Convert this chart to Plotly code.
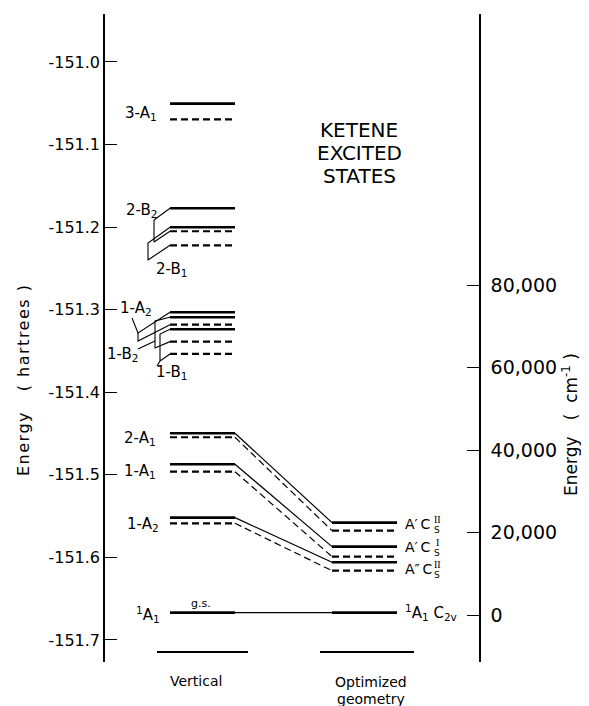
import plotly.graph_objects as go

# ---------------- data ----------------
vertical_states = ["3-A1", "2-B2", "2-B1", "1-A2", "1-B2", "1-B1", "2-A1", "1-A1", "1-A2 (low)", "g.s."]
vertical_solid = [-151.0505, -151.1772, -151.2002, -151.3031, -151.3092, -151.3237,
                  -151.4497, -151.4872, -151.5519, -151.6669]
vertical_dashed = [-151.0694, -151.2050, -151.2220, -151.3182, -151.3387, -151.3536,
                   -151.4545, -151.4962, -151.5587, None]

optimized_states = ["A' Cs II", "A' Cs I", "A'' Cs II", "1A1 C2v"]
optimized_solid = [-151.5579, -151.5870, -151.6059, -151.6669]
optimized_dashed = [-151.5676, -151.5991, -151.6161, None]
# vertical state -> optimized state
correlation = [("2-A1", "A' Cs II"), ("1-A1", "A' Cs I"), ("1-A2 (low)", "A'' Cs II"), ("g.s.", "1A1 C2v")]

left_tickvals = [-151.0, -151.1, -151.2, -151.3, -151.4, -151.5, -151.6, -151.7]
left_ticktext = ["-151.0", "-151.1", "-151.2", "-151.3", "-151.4", "-151.5", "-151.6", "-151.7"]
right_tickvals = [0, 20000, 40000, 60000, 80000]
right_ticktext = ["0", "20,000", "40,000", "60,000", "80,000"]

# ---------------- layout geometry (window pixels) ----------------
OFF = 8                      # page body margin
W, H = 589 - OFF, 706 - OFF  # figure size
PL, PR, PT, PB = 105, 479, 14, 662
Y_RANGE = [-151.7267, -150.9419]
Y2_RANGE = [-11394, 145697]
VERT = (170, 235)
OPT = (332, 397)
FONT = "DejaVu Sans, Liberation Sans, Arial, sans-serif"
SERIF = "Liberation Serif, DejaVu Serif, serif"


def e_to_py(e):
    return PT + (Y_RANGE[1] - e) / (Y_RANGE[1] - Y_RANGE[0]) * (PB - PT)


def py_to_e(py):
    return Y_RANGE[1] - (py - PT) / (PB - PT) * (Y_RANGE[1] - Y_RANGE[0])


def pxp(x):
    return (x - OFF) / W


def pyp(y):
    return 1 - (y - OFF) / H


fig = go.Figure()


def seg_trace(xs, ys, width, dash="solid"):
    fig.add_trace(go.Scatter(x=xs, y=ys, mode="lines", hoverinfo="skip", showlegend=False,
                             line=dict(color="black", width=width, dash=dash)))


def levels(col, vals):
    xs, ys = [], []
    for v in vals:
        if v is None:
            continue
        xs += [col[0], col[1], None]
        ys += [v, v, None]
    return xs, ys


# level lines
x, y = levels(VERT, vertical_solid)
seg_trace(x, y, 2.6)
x, y = levels(VERT, vertical_dashed)
seg_trace(x, y, 2.2, "7px,4px")
x, y = levels(OPT, optimized_solid)
seg_trace(x, y, 2.6)
x, y = levels(OPT, optimized_dashed)
seg_trace(x, y, 2.2, "7px,4px")

# correlation connectors
cs_x, cs_y, cd_x, cd_y = [], [], [], []
for vs, os_ in correlation:
    i = vertical_states.index(vs)
    j = optimized_states.index(os_)
    cs_x += [VERT[1], OPT[0], None]
    cs_y += [vertical_solid[i], optimized_solid[j], None]
    if vertical_dashed[i] is not None and optimized_dashed[j] is not None:
        cd_x += [VERT[1], OPT[0], None]
        cd_y += [vertical_dashed[i], optimized_dashed[j], None]
seg_trace(cs_x, cs_y, 1.2)
seg_trace(cd_x, cd_y, 1.2, "7px,4px")


# leader lines (pixel nodes; endpoints on levels)
def lv(name, dashed=False):
    i = vertical_states.index(name)
    return e_to_py(vertical_dashed[i] if dashed else vertical_solid[i])


leaders = [
    [(154, 220), (VERT[0], lv("2-B2"))],
    [(154, 220), (154, 242), (VERT[0], lv("2-B2", True))],
    [(VERT[0], lv("2-B1")), (148, 243), (148, 260), (VERT[0], lv("2-B1", True))],
    [(132, 318), (138, 333), (VERT[0], lv("1-A2"))],
    [(138, 333), (138, 341), (VERT[0], lv("1-A2", True))],
    [(138, 349), (155, 341)],
    [(VERT[0], lv("1-B2")), (155, 321), (155, 348), (VERT[0], lv("1-B2", True))],
    [(VERT[0], lv("1-B1")), (160, 334), (160, 361), (VERT[0], lv("1-B1", True))],
    [(157, 366), (160, 361)],
]
lx, ly = [], []
for poly in leaders:
    for (px_, py_) in poly:
        lx.append(px_)
        ly.append(py_to_e(py_))
    lx.append(None)
    ly.append(None)
seg_trace(lx, ly, 1.1)

# base segments under the columns
base_e = py_to_e(652)
seg_trace([157, 248, None, 320, 414], [base_e, base_e, None, base_e, base_e], 2.0)

# secondary axis trace (invisible) to activate yaxis2
fig.add_trace(go.Scatter(x=[None], y=[None], yaxis="y2", showlegend=False, hoverinfo="skip"))

ann = []


def label(text, x, y, size=14, xanchor="center", yanchor="middle", angle=0, family=FONT):
    ann.append(dict(text=text, x=pxp(x), y=pyp(y), xref="paper", yref="paper", showarrow=False,
                    xanchor=xanchor, yanchor=yanchor, textangle=angle, borderpad=0,
                    font=dict(size=size, family=family, color="black")))


# vertical column labels
label("3-A<sub>1</sub>", 158, 113, 15, "right")
label("2-B<sub>2</sub>", 158, 211, 15, "right")
label("2-B<sub>1</sub>", 155, 269, 15, "left")
label("1-A<sub>2</sub>", 153, 308, 15, "right")
label("1-B<sub>2</sub>", 106, 354, 15, "left")
label("1-B<sub>1</sub>", 155, 373, 15, "left")
label("2-A<sub>1</sub>", 157, 438, 15, "right")
label("1-A<sub>1</sub>", 157, 471, 15, "right")
label("1-A<sub>2</sub>", 160, 524, 15, "right")
label("<sup>1</sup>A<sub>1</sub>", 161, 614, 15, "right")
label("g.s.", 201, 603, 11)

# optimized labels
for ytxt, prime, sup in [(524, "A\u2032\u2009C", "II"), (547, "A\u2032\u2009C", "I"), (569, "A\u2033\u2009C", "II")]:
    label(prime, 404, ytxt, 14, "left")
    label(sup, 437, ytxt - 5, 10, family=SERIF)
    label("S", 437, ytxt + 6, 9)
label("<sup>1</sup>A<sub>1</sub> C<sub>2v</sub>", 404, 612, 15, "left")

# title
label("KETENE", 359, 130, 20)
label("EXCITED", 359, 153, 20)
label("STATES", 359, 176, 20)

# axis titles
label("<span style='letter-spacing:1.5px'>Energy   ( hartrees )</span>", 23, 380, 16, angle=-90)
label("Energy   (  cm<sup>-1</sup> )", 570, 425, 17, angle=-90)

# bottom labels
label("Vertical", 196, 681, 14)
label("Optimized", 371, 682, 14)
label("geometry", 371, 699, 14)

axis_common = dict(showgrid=False, zeroline=False, showline=True, linecolor="black", linewidth=1.6,
                   ticks="inside", ticklen=12, tickwidth=1.4, tickcolor="black", automargin=False)

fig.update_layout(
    width=W, height=H, template="none",
    paper_bgcolor="white", plot_bgcolor="white",
    margin=dict(l=0, r=0, t=0, b=0),
    showlegend=False,
    xaxis=dict(domain=[pxp(PL), pxp(PR)], range=[PL, PR], visible=False, fixedrange=True),
    yaxis=dict(domain=[pyp(PB), pyp(PT)], range=Y_RANGE, tickvals=left_tickvals,
               ticktext=left_ticktext, side="left", ticklabelstandoff=0,
               tickfont=dict(size=16, family=FONT, color="black"), **axis_common),
    yaxis2=dict(range=Y2_RANGE, overlaying="y", side="right", anchor="x",
                tickvals=right_tickvals, ticktext=right_ticktext, ticklabelstandoff=6,
                tickfont=dict(size=19, family=FONT, color="black"), **axis_common),
    annotations=ann,
)

fig.write_html("out.html")
